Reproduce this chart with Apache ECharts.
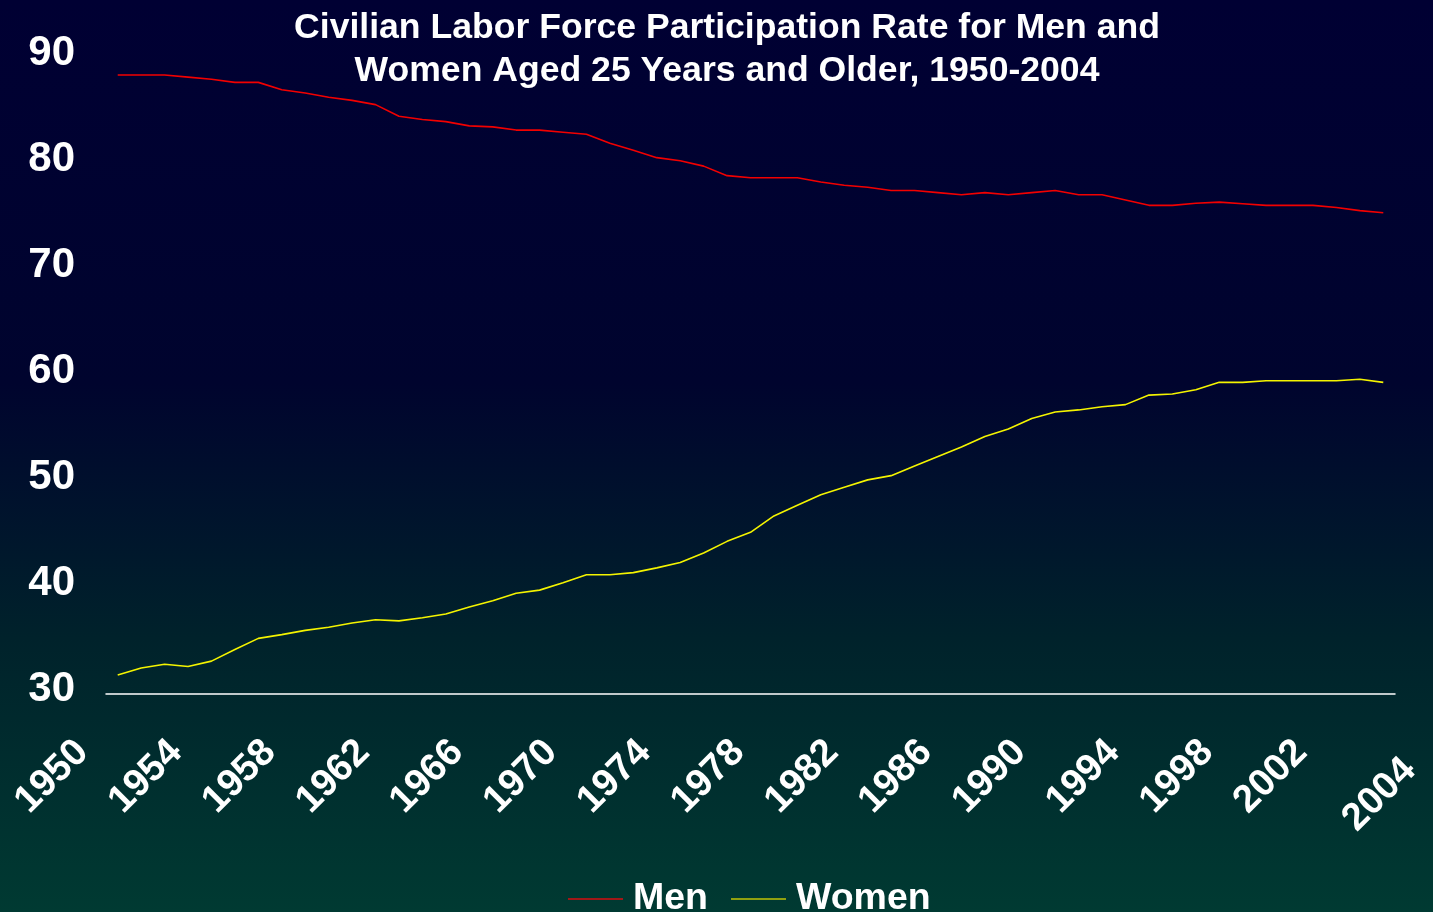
<!DOCTYPE html>
<html>
<head>
<meta charset="utf-8">
<script src="https://cdn.jsdelivr.net/npm/echarts@6/dist/echarts.min.js"></script>
<style>
  html, body { margin: 0; padding: 0; background: #000033; }
  #chart { width: 1433px; height: 912px; }
</style>
</head>
<body>
<div id="chart"></div>
<script>
// Civilian labor force participation rate, persons aged 25 and older (percent)
const years = [
  '1950','1951','1952','1953','1954','1955','1956','1957','1958','1959',
  '1960','1961','1962','1963','1964','1965','1966','1967','1968','1969',
  '1970','1971','1972','1973','1974','1975','1976','1977','1978','1979',
  '1980','1981','1982','1983','1984','1985','1986','1987','1988','1989',
  '1990','1991','1992','1993','1994','1995','1996','1997','1998','1999',
  '2000','2001','2002','2003','2004'
];

const men = [
  88.4, 88.4, 88.4, 88.2, 88.0, 87.7, 87.7, 87.0, 86.7, 86.3,
  86.0, 85.6, 84.5, 84.2, 84.0, 83.6, 83.5, 83.2, 83.2, 83.0,
  82.8, 81.95, 81.3, 80.6, 80.3, 79.8, 78.9, 78.7, 78.7, 78.7,
  78.3, 78.0, 77.8, 77.5, 77.5, 77.3, 77.1, 77.3, 77.1, 77.3,
  77.5, 77.1, 77.1, 76.6, 76.1, 76.1, 76.3, 76.4, 76.25, 76.1,
  76.1, 76.1, 75.9, 75.6, 75.4
];

const women = [
  31.8, 32.45, 32.8, 32.6, 33.1, 34.2, 35.25, 35.6, 36.0, 36.3,
  36.7, 37.0, 36.9, 37.2, 37.55, 38.2, 38.8, 39.5, 39.8, 40.5,
  41.25, 41.25, 41.45, 41.9, 42.4, 43.3, 44.4, 45.25, 46.8, 47.8,
  48.8, 49.5, 50.2, 50.6, 51.5, 52.4, 53.3, 54.3, 55.0, 56.0,
  56.6, 56.8, 57.1, 57.3, 58.2, 58.3, 58.7, 59.4, 59.4, 59.55,
  59.55, 59.55, 59.55, 59.7, 59.4
];

// Years that carry a label on the category axis
const labeledYears = [
  '1950','1954','1958','1962','1966','1970','1974','1978',
  '1982','1986','1990','1994','1998','2002','2004'
];
const lastYear = '2004';

const FONT = 'Arial, "Liberation Sans", Helvetica, sans-serif';

const chart = echarts.init(document.getElementById('chart'), null, { renderer: 'canvas' });

chart.setOption({
  backgroundColor: new echarts.graphic.LinearGradient(0, 0, 0, 1, [
    { offset: 0, color: '#000033' },
    { offset: 0.42, color: '#00042e' },
    { offset: 0.7, color: '#00222b' },
    { offset: 1, color: '#003a32' }
  ]),
  animation: false,
  title: {
    text: 'Civilian Labor Force Participation Rate for Men and\nWomen Aged 25 Years and Older, 1950-2004',
    left: 727,
    top: 7,
    padding: 0,
    textAlign: 'center',
    textStyle: {
      color: '#ffffff',
      fontFamily: FONT,
      fontWeight: 'bold',
      fontSize: 35.6,
      lineHeight: 43
    }
  },
  legend: {
    data: ['Men', 'Women'],
    left: 568,
    top: 880,
    padding: 0,
    itemGap: 23,
    itemWidth: 55,
    itemHeight: 2,
    icon: 'rect',
    textStyle: {
      color: '#ffffff',
      fontFamily: FONT,
      fontWeight: 'bold',
      fontSize: 37.5,
      padding: [0, 0, 0, 5]
    }
  },
  grid: {
    left: 106,
    right: 38,
    top: 58,
    bottom: 218,
    containLabel: false
  },
  xAxis: {
    type: 'category',
    data: years,
    boundaryGap: true,
    axisLine: { show: true, lineStyle: { color: '#ffffff', width: 1.5 } },
    axisTick: { show: false },
    splitLine: { show: false },
    axisLabel: {
      interval: (idx, val) => labeledYears.indexOf(val) >= 0,
      rotate: 45,
      margin: 17,
      color: '#ffffff',
      fontFamily: FONT,
      fontWeight: 'bold',
      fontSize: 38.5,
      formatter: (val) => (val === lastYear ? '{e|' + val + '}' : '{n|' + val + '}'),
      rich: {
        n: { color: '#ffffff', fontFamily: FONT, fontWeight: 'bold', fontSize: 38.5, padding: [0, 50, 0, 0] },
        e: { color: '#ffffff', fontFamily: FONT, fontWeight: 'bold', fontSize: 38.5, padding: [113, 19, 0, 0] }
      }
    }
  },
  yAxis: {
    type: 'value',
    min: 30,
    max: 90,
    interval: 10,
    axisLine: { show: false },
    axisTick: { show: false },
    splitLine: { show: false },
    axisLabel: {
      margin: 31,
      color: '#ffffff',
      fontFamily: FONT,
      fontWeight: 'bold',
      fontSize: 42,
      formatter: '{v|{value}}',
      rich: {
        v: { color: '#ffffff', fontFamily: FONT, fontWeight: 'bold', fontSize: 42, padding: [0, 0, 10, 0] }
      }
    }
  },
  series: [
    {
      name: 'Men',
      type: 'line',
      data: men,
      symbol: 'none',
      color: '#ff0000',
      lineStyle: { color: '#f20000', width: 1.6 },
      itemStyle: { color: '#a01818' }
    },
    {
      name: 'Women',
      type: 'line',
      data: women,
      symbol: 'none',
      color: '#ffff00',
      lineStyle: { color: '#f4f400', width: 1.6 },
      itemStyle: { color: '#90a010' }
    }
  ]
});
</script>
</body>
</html>
